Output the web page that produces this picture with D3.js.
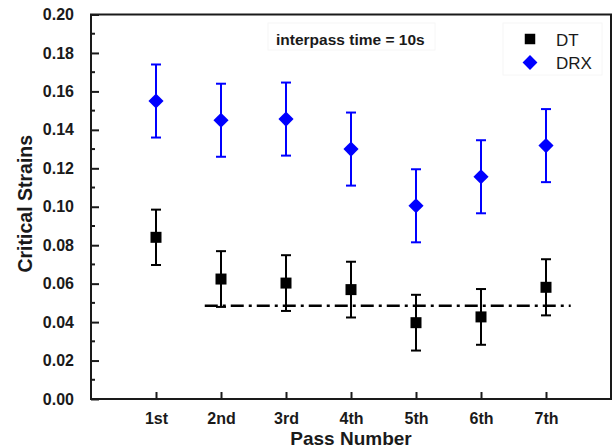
<!DOCTYPE html>
<html>
<head>
<meta charset="utf-8">
<script src="https://cdn.jsdelivr.net/npm/d3@7"></script>
<style>
  html, body { margin: 0; padding: 0; background: #fff; }
  text { font-family: Arial, "Liberation Sans", sans-serif; }
</style>
</head>
<body>
<svg id="chart" width="612" height="448"></svg>
<script>
// ---- data ----
const passes = ["1st", "2nd", "3rd", "4th", "5th", "6th", "7th"];
const dtValues  = [0.0841, 0.0624, 0.0603, 0.0569, 0.0397, 0.0427, 0.0581];
const dtErrors  = [0.0144, 0.0145, 0.0145, 0.0145, 0.0145, 0.0145, 0.0146];
const drxValues = [0.155, 0.145, 0.1456, 0.130, 0.1005, 0.1156, 0.1318];
const drxErrors = [0.019, 0.019, 0.019, 0.019, 0.019, 0.019, 0.019];
const yTicks = [0.00, 0.02, 0.04, 0.06, 0.08, 0.10, 0.12, 0.14, 0.16, 0.18, 0.20];
const refLineValue = 0.0485;
const refLineRange = [1.75, 7.38];
const annotation = "interpass time = 10s";
const seriesNames = ["DT", "DRX"];

// ---- layout ----
const svg = d3.select("#chart");
const pLeft = 91, pRight = 611, pTop = 14.5, pBottom = 399;

const x = d3.scaleLinear().domain([0, 8]).range([pLeft, pRight]);
const y = d3.scaleLinear().domain([0, 0.2]).range([pBottom, pTop]);

// frame
svg.append("rect")
  .attr("x", pLeft).attr("y", pTop)
  .attr("width", pRight - pLeft).attr("height", pBottom - pTop)
  .attr("fill", "none").attr("stroke", "#1a1a1a").attr("stroke-width", 2);

// y axis (major ticks inward)
const yAxis = d3.axisLeft(y).tickValues(yTicks).tickSize(-8).tickPadding(17)
  .tickFormat(d3.format(".2f"));
const gy = svg.append("g").attr("transform", `translate(${pLeft},0)`).call(yAxis);
gy.select(".domain").remove();
gy.selectAll(".tick line").attr("stroke", "#1a1a1a").attr("stroke-width", 2);
gy.selectAll(".tick text")
  .attr("font-size", 16).attr("font-weight", "bold").attr("fill", "#1a1a1a");

// y minor ticks
const minor = d3.range(0.01, 0.2, 0.02);
svg.append("g").selectAll("line").data(minor).join("line")
  .attr("x1", pLeft).attr("x2", pLeft + 4)
  .attr("y1", d => y(d)).attr("y2", d => y(d))
  .attr("stroke", "#1a1a1a").attr("stroke-width", 2);

// x axis
const xAxis = d3.axisBottom(x).tickValues(d3.range(1, passes.length + 1))
  .tickSize(-7).tickPadding(14)
  .tickFormat(d => passes[d - 1]);
const gx = svg.append("g").attr("transform", `translate(0,${pBottom})`).call(xAxis);
gx.select(".domain").remove();
gx.selectAll(".tick line").attr("stroke", "#1a1a1a").attr("stroke-width", 2);
gx.selectAll(".tick text")
  .attr("font-size", 16).attr("font-weight", "bold").attr("fill", "#1a1a1a");

// axis titles
svg.append("text")
  .attr("x", (pLeft + pRight) / 2).attr("y", 445)
  .attr("text-anchor", "middle")
  .attr("font-size", 19).attr("font-weight", "bold").attr("fill", "#1a1a1a")
  .text("Pass Number");
svg.append("text")
  .attr("transform", `translate(32,${(pTop + pBottom) / 2 - 3}) rotate(-90)`)
  .attr("text-anchor", "middle")
  .attr("font-size", 19.5).attr("font-weight", "bold").attr("fill", "#1a1a1a")
  .text("Critical Strains");

// reference dash-dot line
svg.append("line")
  .attr("x1", x(refLineRange[0])).attr("x2", x(refLineRange[1]))
  .attr("y1", y(refLineValue)).attr("y2", y(refLineValue))
  .attr("stroke", "#000").attr("stroke-width", 2.5)
  .attr("stroke-dasharray", "13,5,3,5");

function drawSeries(values, errors, color, symbol, size) {
  const g = svg.append("g");
  const data = values.map((v, i) => ({ i: i + 1, v, e: errors[i] }));
  g.selectAll(".eb").data(data).join("line")
    .attr("x1", d => x(d.i)).attr("x2", d => x(d.i))
    .attr("y1", d => y(d.v + d.e)).attr("y2", d => y(d.v - d.e))
    .attr("stroke", color).attr("stroke-width", 2);
  [1, -1].forEach(s => {
    g.append("g").selectAll("line").data(data).join("line")
      .attr("x1", d => x(d.i) - 5).attr("x2", d => x(d.i) + 5)
      .attr("y1", d => y(d.v + s * d.e)).attr("y2", d => y(d.v + s * d.e))
      .attr("stroke", color).attr("stroke-width", 2);
  });
  g.append("g").selectAll("path").data(data).join("path")
    .attr("d", d3.symbol().type(d3.symbolSquare).size(size))
    .attr("transform", d => `translate(${x(d.i)},${y(d.v)})` + (symbol === "diamond" ? " rotate(45)" : ""))
    .attr("fill", color);
}

drawSeries(drxValues, drxErrors, "#0000ff", "diamond", 115);
drawSeries(dtValues, dtErrors, "#000000", "square", 121);

// annotation box (very faint)
svg.append("rect").attr("x", 268).attr("y", 23).attr("width", 167).attr("height", 27)
  .attr("fill", "none").attr("stroke", "#f6f6f6").attr("stroke-width", 1);
svg.append("text").attr("x", 276).attr("y", 44.5)
  .attr("font-size", 15.5).attr("font-weight", "bold").attr("fill", "#1a1a1a")
  .text(annotation);

// legend
svg.append("rect").attr("x", 503).attr("y", 23).attr("width", 99).attr("height", 52)
  .attr("fill", "none").attr("stroke", "#f6f6f6").attr("stroke-width", 1);
const legend = [
  { name: seriesNames[0], color: "#000", rot: 0, size: 110, cy: 39, ty: 45.5 },
  { name: seriesNames[1], color: "#0000ff", rot: 45, size: 110, cy: 62.5, ty: 68.5 }
];
legend.forEach(l => {
  svg.append("path")
    .attr("d", d3.symbol().type(d3.symbolSquare).size(l.size)())
    .attr("transform", `translate(530,${l.cy}) rotate(${l.rot})`)
    .attr("fill", l.color);
  svg.append("text").attr("x", 556).attr("y", l.ty)
    .attr("font-size", 17).attr("fill", "#1a1a1a").text(l.name);
});
</script>
</body>
</html>
